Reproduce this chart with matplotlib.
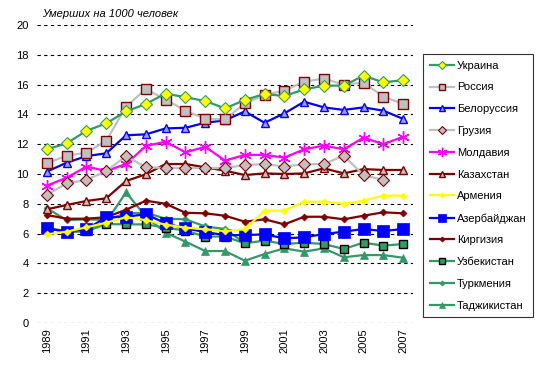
import numpy as np
import matplotlib
matplotlib.use("Agg")
import matplotlib.pyplot as plt

plt.rcParams['font.family'] = ['Liberation Sans', 'DejaVu Sans']

years = list(range(1989, 2008))
nan = np.nan

ukraine = [11.66, 12.06, 12.9, 13.4, 14.2, 14.7, 15.4, 15.15, 14.9, 14.4, 14.97, 15.37, 15.23, 15.68, 15.93, 15.93, 16.6, 16.15, 16.3]
russia = [10.72, 11.23, 11.43, 12.23, 14.52, 15.7, 15.0, 14.25, 13.7, 13.67, 14.74, 15.3, 15.6, 16.2, 16.4, 16.0, 16.13, 15.2, 14.7]
belarus = [10.16, 10.76, 11.2, 11.39, 12.6, 12.66, 13.06, 13.1, 13.44, 13.6, 14.2, 13.44, 14.07, 14.85, 14.47, 14.3, 14.47, 14.25, 13.7]
georgia = [8.6, 9.37, 9.6, 10.2, 11.2, 10.45, 10.4, 10.4, 10.4, 10.4, 10.6, 10.67, 10.5, 10.65, 10.67, 11.23, 9.93, 9.6, nan]
moldova = [9.22, 9.75, 10.5, 10.2, 10.67, 11.88, 12.17, 11.45, 11.83, 10.9, 11.28, 11.28, 11.1, 11.66, 11.9, 11.66, 12.44, 12.0, 12.5]
kazakhstan = [7.63, 7.92, 8.19, 8.37, 9.53, 9.98, 10.67, 10.67, 10.45, 10.22, 9.93, 10.04, 10.0, 10.04, 10.38, 10.04, 10.33, 10.27, 10.27]
armenia = [5.95, 6.13, 6.42, 6.73, 7.1, 6.9, 6.6, 6.4, 6.29, 6.17, 6.29, 7.54, 7.54, 8.14, 8.14, 7.99, 8.21, 8.55, 8.55]
azerbaijan = [6.35, 6.13, 6.3, 7.09, 7.13, 7.3, 6.69, 6.35, 6.1, 5.9, 5.9, 5.95, 5.68, 5.75, 5.97, 6.13, 6.31, 6.17, 6.31]
kyrgyzstan = [7.25, 7.0, 7.0, 7.1, 7.6, 8.21, 8.0, 7.4, 7.36, 7.2, 6.8, 6.96, 6.62, 7.13, 7.13, 6.96, 7.2, 7.43, 7.36]
uzbekistan = [6.35, 6.1, 6.15, 6.64, 6.62, 6.62, 6.4, 6.2, 5.8, 5.8, 5.35, 5.53, 5.3, 5.39, 5.3, 4.97, 5.39, 5.19, 5.3]
turkmenistan = [7.7, 6.9, 6.96, 6.91, 7.36, 7.4, 7.0, 6.96, 6.48, 6.31, 5.35, nan, nan, nan, nan, nan, nan, nan, nan]
tajikistan = [6.4, 6.15, 6.2, 6.8, 8.77, 7.13, 6.06, 5.46, 4.83, 4.83, 4.18, 4.63, 5.01, 4.79, 5.01, 4.41, 4.56, 4.56, 4.38]

names = ["Украина", "Россия", "Белоруссия", "Грузия", "Молдавия", "Казахстан",
         "Армения", "Азербайджан", "Киргизия", "Узбекистан", "Туркмения", "Таджикистан"]
values = [ukraine, russia, belarus, georgia, moldova, kazakhstan,
          armenia, azerbaijan, kyrgyzstan, uzbekistan, turkmenistan, tajikistan]

SG = '#339966'
GR = '#C0C0C0'
DR = '#800000'
styles = [
    dict(color=SG, marker='D', ms=6, mfc='#FFFF00', mec=SG, mew=0.8),
    dict(color=GR, marker='s', ms=6.5, mfc=GR, mec=DR, mew=1.0),
    dict(color='#0000FF', marker='^', ms=6, mfc='#A0A0D0', mec='#0000FF', mew=1.0),
    dict(color=GR, marker='D', ms=6, mfc=GR, mec=DR, mew=0.8),
    dict(color='#FF00FF', marker=(6, 2, 0), ms=9, mfc='#FF00FF', mec='#FF00FF', mew=1.0),
    dict(color=DR, marker='^', ms=6, mfc=GR, mec=DR, mew=1.0),
    dict(color='#FFFF00', marker='D', ms=3.5, mfc='#FFFF00', mec='#FFFF00', mew=0.5),
    dict(color='#0000FF', marker='s', ms=8, mfc='#0000FF', mec='#0000FF', mew=0.5),
    dict(color=DR, marker='D', ms=3.5, mfc=DR, mec=DR, mew=0.5),
    dict(color=SG, marker='s', ms=5.5, mfc=SG, mec='black', mew=1.0),
    dict(color=SG, marker='D', ms=3.5, mfc=SG, mec=SG, mew=0.5),
    dict(color=SG, marker='^', ms=6, mfc=SG, mec=SG, mew=0.5),
]

fig = plt.figure(figsize=(5.45, 3.72), dpi=100)
ax = fig.add_axes([37/545, 1-323/372, 376/545, 298/372])

x = np.arange(len(years))
# draw in reverse so first series appear on top
for name, vals, st in reversed(list(zip(names, values, styles))):
    ax.plot(x, vals, lw=1.6, label=name, **st)

ax.set_xlim(-0.5, len(years) - 0.5)
ax.set_ylim(0, 20)
ax.set_yticks(range(0, 21, 2))
ax.set_yticklabels([str(v) for v in range(0, 21, 2)], fontsize=8)
ax.set_xticks(x[::2])
ax.set_xticklabels([str(y) for y in years[::2]], rotation=90, fontsize=8)
ax.tick_params(length=0, pad=6)
ax.tick_params(axis='x', pad=4)
for s in ax.spines.values():
    s.set_visible(False)
for v in range(0, 21, 2):
    ax.axhline(v, color='black', lw=0.8, ls=(0, (3, 3)), zorder=0)

handles, labels = ax.get_legend_handles_labels()
handles = handles[::-1]
labels = labels[::-1]
leg = fig.legend(handles, labels, loc='upper left',
                 bbox_to_anchor=(423/545, 1-54/372), borderaxespad=0,
                 fontsize=8, frameon=True, fancybox=False, edgecolor='black',
                 handlelength=2.2, labelspacing=1.06, borderpad=0.6,
                 handletextpad=0.25, markerscale=0.75)
leg.get_frame().set_linewidth(0.8)

fig.text(42/545, 1-14/372, "Умерших на 1000 человек", fontsize=8,
         style='italic', va='center', ha='left')

fig.savefig("out.png", dpi=100)
